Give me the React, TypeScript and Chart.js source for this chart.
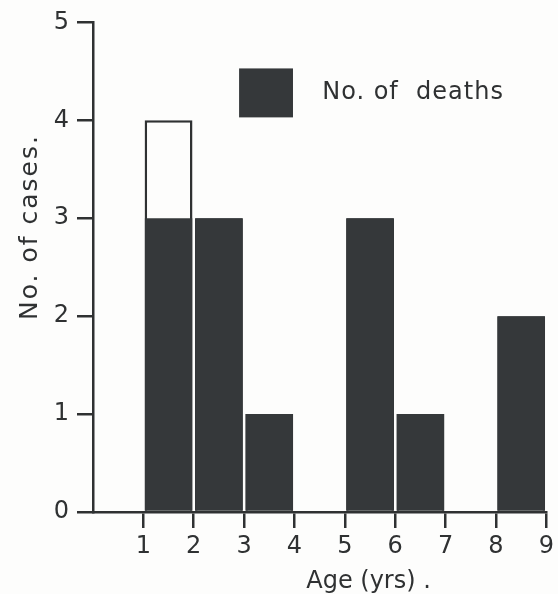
import React, { useEffect, useRef } from 'react';
import { Chart, registerables } from 'chart.js';

Chart.register(...registerables);

// ---- data ----
const ageStarts = [1, 2, 3, 5, 6, 8];
const cases = [4, 3, 1, 3, 1, 2];
const deaths = [3, 3, 1, 3, 1, 2];
const xTicks = [1, 2, 3, 4, 5, 6, 7, 8, 9];
const yTicks = [0, 1, 2, 3, 4, 5];
const legendLabel = 'No. of  deaths';
const xTitle = 'Age (yrs) .';
const yTitle = 'No. of cases.';

const INK = '#2f3132';
const BAR = '#35383a';
const PAPER = '#fdfdfc';
const FONT = "'DejaVu Sans', sans-serif";

const paperPlugin = {
  id: 'paper',
  beforeDraw(chart: any) {
    const { ctx, width, height } = chart;
    ctx.save();
    ctx.fillStyle = PAPER;
    ctx.fillRect(0, 0, width, height);
    ctx.restore();
  },
};

const decorPlugin = {
  id: 'decor',
  afterDraw(chart: any) {
    const { ctx, chartArea } = chart;
    const xs = chart.scales.x;
    const ys = chart.scales.y;
    ctx.save();
    // legend
    const l = xs.getPixelForValue(2.9);
    const r = xs.getPixelForValue(3.97);
    const t = ys.getPixelForValue(4.53);
    const b = ys.getPixelForValue(4.03);
    ctx.fillStyle = BAR;
    ctx.fillRect(l, t, r - l, b - t);
    ctx.fillStyle = INK;
    ctx.font = `24px ${FONT}`;
    ctx.textAlign = 'left';
    ctx.textBaseline = 'middle';
    (ctx as any).letterSpacing = '1px';
    ctx.fillText(legendLabel, xs.getPixelForValue(4.55), (t + b) / 2);
    // x title
    (ctx as any).letterSpacing = '0px';
    ctx.textAlign = 'center';
    ctx.textBaseline = 'alphabetic';
    ctx.fillText(xTitle, xs.getPixelForValue(5.47), chartArea.bottom + 76);
    // y title
    ctx.translate(chartArea.left - 56, ys.getPixelForValue(2.91));
    ctx.rotate(-Math.PI / 2);
    ctx.font = `25px ${FONT}`;
    (ctx as any).letterSpacing = '2px';
    ctx.fillText(yTitle, 0, 0);
    ctx.restore();
  },
};

export default function App() {
  const ref = useRef<HTMLCanvasElement | null>(null);

  useEffect(() => {
    if (!ref.current) return;
    const tickFont = { family: FONT, size: 24 };
    const chart = new Chart(ref.current, {
      type: 'bar',
      data: {
        datasets: [
          {
            label: 'No. of cases',
            data: ageStarts.map((s, i) => ({ x: s + 0.5, y: cases[i] })),
            backgroundColor: PAPER,
            borderColor: INK,
            borderWidth: 2.5,
            borderSkipped: 'bottom',
            grouped: false,
            barPercentage: 0.95,
            categoryPercentage: 1,
            order: 2,
          } as any,
          {
            label: 'No. of deaths',
            data: ageStarts.map((s, i) => ({ x: s + 0.5, y: deaths[i] })),
            backgroundColor: BAR,
            borderWidth: 0,
            grouped: false,
            barPercentage: 0.94,
            categoryPercentage: 1,
            order: 1,
          } as any,
        ],
      },
      options: {
        animation: false,
        responsive: false,
        devicePixelRatio: 1,
        layout: { padding: { top: 19, right: 11, left: 0, bottom: 0 } },
        plugins: {
          legend: { display: false },
          tooltip: { enabled: false },
        },
        scales: {
          x: {
            type: 'linear',
            min: 0,
            max: 9,
            offset: false,
            afterBuildTicks: (s: any) => {
              s.ticks = xTicks.map((v) => ({ value: v }));
            },
            afterFit: (s: any) => {
              s.height = 82;
            },
            grid: {
              offset: false,
              drawOnChartArea: false,
              drawTicks: true,
              tickLength: 16,
              lineWidth: 2.5,
              color: INK,
            },
            border: { display: true, color: INK, width: 2.5 },
            ticks: {
              autoSkip: false,
              maxRotation: 0,
              padding: 4,
              color: INK,
              font: tickFont,
              callback: (v: any) => String(v),
            },
          },
          y: {
            type: 'linear',
            min: 0,
            max: 5,
            afterBuildTicks: (s: any) => {
              s.ticks = yTicks.map((v) => ({ value: v }));
            },
            afterFit: (s: any) => {
              s.width = 93;
            },
            grid: {
              drawOnChartArea: false,
              drawTicks: true,
              tickLength: 16,
              lineWidth: 2.5,
              color: INK,
            },
            border: { display: true, color: INK, width: 2.5 },
            ticks: {
              padding: 8,
              color: INK,
              font: tickFont,
              callback: (v: any) => String(v),
            },
          },
        },
      } as any,
      plugins: [paperPlugin, decorPlugin],
    });
    return () => chart.destroy();
  }, []);

  return (
    <div style={{ position: 'fixed', left: 0, top: 0, width: 558, height: 594 }}>
      <canvas ref={ref} width={558} height={594} style={{ display: 'block', width: 558, height: 594 }} />
    </div>
  );
}
